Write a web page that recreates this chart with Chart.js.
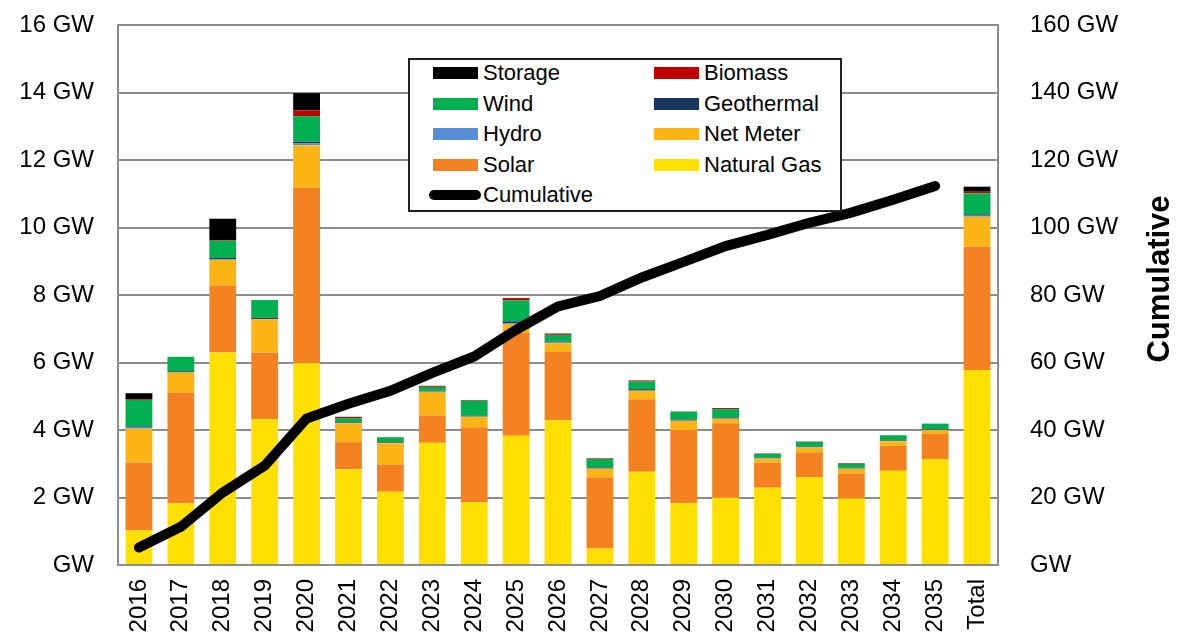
<!DOCTYPE html>
<html>
<head>
<meta charset="utf-8">
<script src="https://cdn.jsdelivr.net/npm/chart.js@4.4.1/dist/chart.umd.min.js"></script>
<style>
    html, body { margin: 0; padding: 0; background: #fff; }
    #wrap { position: relative; width: 1180px; height: 643px; }
    #legend {
        position: absolute; left: 408px; top: 58px; width: 430px; height: 150px;
        border: 2px solid #222; background: #fff;
        font-family: "Liberation Sans", Arial, sans-serif; font-size: 22px; color: #000;
    }
    .item { position: absolute; height: 24px; line-height: 24px; white-space: nowrap; }
    .item .sw { position: absolute; left: 0; top: 6px; width: 45px; height: 12px; }
    .item span { position: absolute; left: 50px; top: 0; }
    .item .ln { position: absolute; left: -4px; top: 7px; width: 52px; height: 10px; border-radius: 5px; background: #000; }
</style>
</head>
<body>
<div id="wrap">
    <canvas id="genChart" width="1180" height="643"></canvas>
    <div id="legend"></div>
</div>
<script>
const years = ['2016', '2017', '2018', '2019', '2020', '2021', '2022', '2023', '2024', '2025',
    '2026', '2027', '2028', '2029', '2030', '2031', '2032', '2033', '2034', '2035', 'Total'];

const naturalGas = [1.02, 1.83, 6.30, 4.32, 5.98, 2.84, 2.17, 3.62, 1.85, 3.83, 4.29, 0.49, 2.76, 1.83, 1.99, 2.29, 2.60, 1.97, 2.79, 3.13, 5.78];
const solar = [2.01, 3.28, 1.98, 1.98, 5.20, 0.80, 0.81, 0.81, 2.23, 3.05, 2.02, 2.10, 2.15, 2.17, 2.21, 0.74, 0.74, 0.74, 0.74, 0.76, 3.66];
const netMeter = [1.01, 0.59, 0.76, 0.98, 1.26, 0.56, 0.63, 0.70, 0.31, 0.26, 0.26, 0.26, 0.25, 0.27, 0.13, 0.12, 0.14, 0.14, 0.14, 0.11, 0.88];
const hydro = [0.05, 0.01, 0.02, 0.01, 0.05, 0.01, 0.01, 0.01, 0.01, 0.02, 0.02, 0.01, 0.01, 0.01, 0.01, 0.01, 0.01, 0.01, 0.01, 0.01, 0.03];
const geothermal = [0.02, 0.03, 0.04, 0.04, 0.05, 0.02, 0.02, 0.02, 0.02, 0.06, 0.03, 0.03, 0.04, 0.03, 0.03, 0.02, 0.02, 0.02, 0.02, 0.02, 0.04];
const wind = [0.78, 0.43, 0.51, 0.52, 0.76, 0.12, 0.14, 0.12, 0.45, 0.62, 0.20, 0.25, 0.23, 0.23, 0.25, 0.12, 0.14, 0.12, 0.14, 0.16, 0.62];
const biomass = [0.02, 0.00, 0.02, 0.00, 0.17, 0.04, 0.01, 0.03, 0.02, 0.07, 0.04, 0.02, 0.03, 0.01, 0.03, 0.01, 0.01, 0.02, 0.01, 0.00, 0.05];
const storage = [0.18, 0.00, 0.63, 0.00, 0.51, 0.00, 0.00, 0.00, 0.00, 0.00, 0.00, 0.00, 0.00, 0.00, 0.00, 0.00, 0.00, 0.00, 0.00, 0.00, 0.15];
const cumulative = [5.2, 11.3, 21.5, 29.4, 43.4, 47.8, 51.6, 56.9, 61.8, 69.7, 76.6, 79.7, 85.2, 89.8, 94.5, 97.8, 101.4, 104.4, 108.2, 112.3, null];

const leftTicks = [0, 2, 4, 6, 8, 10, 12, 14, 16];
const rightTicks = [0, 20, 40, 60, 80, 100, 120, 140, 160];

const series = [
    { label: 'Natural Gas', data: naturalGas, color: '#FFE000' },
    { label: 'Solar', data: solar, color: '#F58220' },
    { label: 'Net Meter', data: netMeter, color: '#FDB515' },
    { label: 'Hydro', data: hydro, color: '#558ED5' },
    { label: 'Geothermal', data: geothermal, color: '#17375E' },
    { label: 'Wind', data: wind, color: '#00B050' },
    { label: 'Biomass', data: biomass, color: '#C00000' },
    { label: 'Storage', data: storage, color: '#000000' }
];

const font = "'Liberation Sans', Arial, sans-serif";
const gridGray = '#8c8c8c';

const datasets = series.map(s => ({
    type: 'bar',
    label: s.label,
    data: s.data,
    backgroundColor: s.color,
    borderWidth: 0,
    stack: 'gen',
    yAxisID: 'y',
    order: 2,
    barPercentage: 0.64,
    categoryPercentage: 1
}));

datasets.push({
    type: 'line',
    label: 'Cumulative',
    data: cumulative,
    borderColor: '#000',
    borderWidth: 10,
    borderCapStyle: 'round',
    pointRadius: 0,
    tension: 0,
    fill: false,
    yAxisID: 'y1',
    order: 0
});

// right axis title reads bottom-to-top, so draw it here instead of scale.title
const rightTitle = {
    id: 'rightTitle',
    afterDraw(chart) {
        const ctx = chart.ctx;
        const area = chart.chartArea;
        ctx.save();
        ctx.translate(1160, (area.top + area.bottom) / 2 - 16);
        ctx.rotate(-Math.PI / 2);
        ctx.font = 'bold 31px ' + font;
        ctx.fillStyle = '#000';
        ctx.textAlign = 'center';
        ctx.textBaseline = 'middle';
        ctx.fillText('Cumulative', 0, 0);
        ctx.restore();
    }
};

// keep the plot frame where the original has it
function noEdgePadding(scale) {
    scale.paddingTop = 0;
    scale.paddingBottom = 0;
}

new Chart(document.getElementById('genChart'), {
    data: { labels: years, datasets: datasets },
    options: {
        responsive: false,
        animation: false,
        layout: { padding: { top: 25, bottom: 0, left: 0, right: 0 } },
        plugins: {
            legend: { display: false },
            tooltip: { enabled: false }
        },
        scales: {
            x: {
                stacked: true,
                grid: { display: false },
                border: { display: true, color: gridGray, width: 2 },
                ticks: {
                    minRotation: 90, maxRotation: 90, autoSkip: false,
                    color: '#000', font: { family: font, size: 24 }, padding: 6
                },
                afterFit: scale => { scale.height = 78; noEdgePadding(scale); }
            },
            y: {
                stacked: true,
                position: 'left',
                min: 0, max: 16,
                afterBuildTicks: scale => { scale.ticks = leftTicks.map(v => ({ value: v })); },
                grid: { color: gridGray, lineWidth: 2, drawTicks: false },
                border: { display: true, color: gridGray, width: 2 },
                ticks: {
                    color: '#000', font: { family: font, size: 24 }, padding: 24,
                    callback: v => v === 0 ? 'GW' : v + ' GW'
                },
                afterFit: scale => { scale.width = 118; noEdgePadding(scale); }
            },
            y1: {
                position: 'right',
                min: 0, max: 160,
                afterBuildTicks: scale => { scale.ticks = rightTicks.map(v => ({ value: v })); },
                grid: { display: false },
                border: { display: true, color: gridGray, width: 2 },
                ticks: {
                    color: '#000', font: { family: font, size: 24 }, padding: 24,
                    callback: v => v === 0 ? 'GW' : v + ' GW'
                },
                afterFit: scale => { scale.width = 182; noEdgePadding(scale); }
            }
        }
    },
    plugins: [rightTitle]
});

// legend box, laid out like the original (two columns, reverse stack order)
const legendRows = [
    ['Storage', 'Biomass'],
    ['Wind', 'Geothermal'],
    ['Hydro', 'Net Meter'],
    ['Solar', 'Natural Gas'],
    ['Cumulative', null]
];
const legendBox = document.getElementById('legend');
legendRows.forEach((row, r) => {
    row.forEach((name, c) => {
        if (!name) return;
        const item = document.createElement('div');
        item.className = 'item';
        item.style.left = (c === 0 ? 23 : 244) + 'px';
        item.style.top = (1 + r * 30.5) + 'px';
        const s = series.find(x => x.label === name);
        const mark = s ? '<div class="sw" style="background:' + s.color + '"></div>' : '<div class="ln"></div>';
        item.innerHTML = mark + '<span>' + name + '</span>';
        legendBox.appendChild(item);
    });
});
</script>
</body>
</html>
